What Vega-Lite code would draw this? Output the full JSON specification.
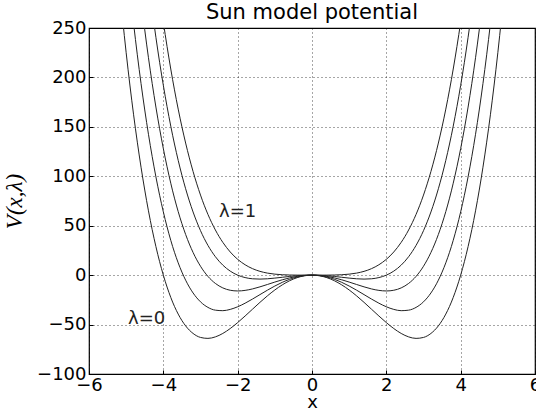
{
  "$schema": "https://vega.github.io/schema/vega-lite/v6.json",
  "width": 446,
  "height": 346,
  "autosize": {"type": "none"},
  "padding": {"left": 89, "top": 28, "right": 1, "bottom": 36},
  "background": "white",
  "title": {
    "text": "Sun model potential",
    "font": "DejaVu Sans",
    "fontSize": 21,
    "fontWeight": "normal",
    "color": "black",
    "offset": 4,
    "dy": 8
  },
  "datasets": {
    "curves": [
      {"x": -5.2, "a": 298.52, "b": 406.68, "c": 514.84, "d": 623.0, "e": 731.16},
      {"x": -5.0, "a": 225, "b": 325, "c": 425, "d": 525, "e": 625},
      {"x": -4.8, "a": 162.2, "b": 254.36, "c": 346.52, "d": 438.68, "e": 530.84},
      {"x": -4.6, "a": 109.19, "b": 193.83, "c": 278.47, "d": 363.11, "e": 447.75},
      {"x": -4.4, "a": 65.05, "b": 142.49, "c": 219.93, "d": 297.37, "e": 374.81},
      {"x": -4.2, "a": 28.93, "b": 99.49, "c": 170.05, "d": 240.61, "e": 311.17},
      {"x": -4.0, "a": 0, "b": 64, "c": 128, "d": 192, "e": 256},
      {"x": -3.8, "a": -22.53, "b": 35.23, "c": 92.99, "d": 150.75, "e": 208.51},
      {"x": -3.6, "a": -39.4, "b": 12.44, "c": 64.28, "d": 116.12, "e": 167.96},
      {"x": -3.4, "a": -51.33, "b": -5.09, "c": 41.15, "d": 87.39, "e": 133.63},
      {"x": -3.2, "a": -58.98, "b": -18.02, "c": 22.94, "d": 63.9, "e": 104.86},
      {"x": -3.0, "a": -63, "b": -27, "c": 9, "d": 45, "e": 81},
      {"x": -2.8, "a": -63.97, "b": -32.61, "c": -1.25, "d": 30.11, "e": 61.47},
      {"x": -2.6, "a": -62.46, "b": -35.42, "c": -8.38, "d": 18.66, "e": 45.7},
      {"x": -2.4, "a": -58.98, "b": -35.94, "c": -12.9, "d": 10.14, "e": 33.18},
      {"x": -2.2, "a": -54.01, "b": -34.65, "c": -15.29, "d": 4.07, "e": 23.43},
      {"x": -2.0, "a": -48, "b": -32, "c": -16, "d": 0, "e": 16},
      {"x": -1.8, "a": -41.34, "b": -28.38, "c": -15.42, "d": -2.46, "e": 10.5},
      {"x": -1.6, "a": -34.41, "b": -24.17, "c": -13.93, "d": -3.69, "e": 6.55},
      {"x": -1.4, "a": -27.52, "b": -19.68, "c": -11.84, "d": -4.0, "e": 3.84},
      {"x": -1.2, "a": -20.97, "b": -15.21, "c": -9.45, "d": -3.69, "e": 2.07},
      {"x": -1.0, "a": -15, "b": -11, "c": -7, "d": -3, "e": 1},
      {"x": -0.8, "a": -9.83, "b": -7.27, "c": -4.71, "d": -2.15, "e": 0.41},
      {"x": -0.6, "a": -5.63, "b": -4.19, "c": -2.75, "d": -1.31, "e": 0.13},
      {"x": -0.4, "a": -2.534, "b": -1.894, "c": -1.254, "d": -0.614, "e": 0.026},
      {"x": -0.2, "a": -0.638, "b": -0.478, "c": -0.318, "d": -0.158, "e": 0.002},
      {"x": 0, "a": 0, "b": 0, "c": 0, "d": 0, "e": 0},
      {"x": 0.2, "a": -0.638, "b": -0.478, "c": -0.318, "d": -0.158, "e": 0.002},
      {"x": 0.4, "a": -2.534, "b": -1.894, "c": -1.254, "d": -0.614, "e": 0.026},
      {"x": 0.6, "a": -5.63, "b": -4.19, "c": -2.75, "d": -1.31, "e": 0.13},
      {"x": 0.8, "a": -9.83, "b": -7.27, "c": -4.71, "d": -2.15, "e": 0.41},
      {"x": 1.0, "a": -15, "b": -11, "c": -7, "d": -3, "e": 1},
      {"x": 1.2, "a": -20.97, "b": -15.21, "c": -9.45, "d": -3.69, "e": 2.07},
      {"x": 1.4, "a": -27.52, "b": -19.68, "c": -11.84, "d": -4.0, "e": 3.84},
      {"x": 1.6, "a": -34.41, "b": -24.17, "c": -13.93, "d": -3.69, "e": 6.55},
      {"x": 1.8, "a": -41.34, "b": -28.38, "c": -15.42, "d": -2.46, "e": 10.5},
      {"x": 2.0, "a": -48, "b": -32, "c": -16, "d": 0, "e": 16},
      {"x": 2.2, "a": -54.01, "b": -34.65, "c": -15.29, "d": 4.07, "e": 23.43},
      {"x": 2.4, "a": -58.98, "b": -35.94, "c": -12.9, "d": 10.14, "e": 33.18},
      {"x": 2.6, "a": -62.46, "b": -35.42, "c": -8.38, "d": 18.66, "e": 45.7},
      {"x": 2.8, "a": -63.97, "b": -32.61, "c": -1.25, "d": 30.11, "e": 61.47},
      {"x": 3.0, "a": -63, "b": -27, "c": 9, "d": 45, "e": 81},
      {"x": 3.2, "a": -58.98, "b": -18.02, "c": 22.94, "d": 63.9, "e": 104.86},
      {"x": 3.4, "a": -51.33, "b": -5.09, "c": 41.15, "d": 87.39, "e": 133.63},
      {"x": 3.6, "a": -39.4, "b": 12.44, "c": 64.28, "d": 116.12, "e": 167.96},
      {"x": 3.8, "a": -22.53, "b": 35.23, "c": 92.99, "d": 150.75, "e": 208.51},
      {"x": 4.0, "a": 0, "b": 64, "c": 128, "d": 192, "e": 256},
      {"x": 4.2, "a": 28.93, "b": 99.49, "c": 170.05, "d": 240.61, "e": 311.17},
      {"x": 4.4, "a": 65.05, "b": 142.49, "c": 219.93, "d": 297.37, "e": 374.81},
      {"x": 4.6, "a": 109.19, "b": 193.83, "c": 278.47, "d": 363.11, "e": 447.75},
      {"x": 4.8, "a": 162.2, "b": 254.36, "c": 346.52, "d": 438.68, "e": 530.84},
      {"x": 5.0, "a": 225, "b": 325, "c": 425, "d": 525, "e": 625},
      {"x": 5.2, "a": 298.52, "b": 406.68, "c": 514.84, "d": 623.0, "e": 731.16}
    ],
    "labels": [
      {"x": -2.5, "y": 59, "label": "λ=1"},
      {"x": -4.95, "y": -49, "label": "λ=0"}
    ]
  },
  "layer": [
    {
      "data": {"name": "curves"},
      "transform": [{"fold": ["a", "b", "c", "d", "e"], "as": ["lam", "V"]}],
      "mark": {"type": "line", "clip": true, "interpolate": "monotone", "color": "#222222", "strokeWidth": 1},
      "encoding": {
        "x": {
          "field": "x", "type": "quantitative",
          "scale": {"domain": [-6, 6], "nice": false, "zero": false},
          "axis": {"values": [-6, -4, -2, 0, 2, 4, 6], "title": "x", "format": "d"}
        },
        "y": {
          "field": "V", "type": "quantitative",
          "scale": {"domain": [-100, 250], "nice": false, "zero": false},
          "axis": {"values": [-100, -50, 0, 50, 100, 150, 200, 250], "title": "V(x,λ)", "format": "d",
                   "titleFont": "Liberation Serif", "titleFontStyle": "italic", "titleFontSize": 23, "titlePadding": 10}
        },
        "detail": {"field": "lam", "type": "nominal"}
      }
    },
    {
      "data": {"name": "labels"},
      "mark": {"type": "text", "align": "left", "baseline": "alphabetic", "font": "DejaVu Sans", "fontSize": 18, "color": "#222222"},
      "encoding": {
        "x": {"field": "x", "type": "quantitative"},
        "y": {"field": "y", "type": "quantitative"},
        "text": {"field": "label"}
      }
    }
  ],
  "config": {
    "font": "DejaVu Sans",
    "view": {"stroke": "black", "strokeWidth": 1.2},
    "axis": {
      "domain": false,
      "grid": true,
      "gridColor": "black",
      "gridDash": [1, 3],
      "gridOpacity": 0.7,
      "gridWidth": 1,
      "ticks": true,
      "tickColor": "black",
      "tickSize": -4,
      "labelFlush": false,
      "labelOverlap": false,
      "labelColor": "black",
      "labelFont": "DejaVu Sans",
      "labelFontSize": 18,
      "titleColor": "black",
      "titleFont": "DejaVu Sans",
      "titleFontSize": 18,
      "titleFontWeight": "normal"
    },
    "axisX": {"titlePadding": -1, "labelPadding": 6},
    "axisY": {"labelPadding": 7}
  }
}
